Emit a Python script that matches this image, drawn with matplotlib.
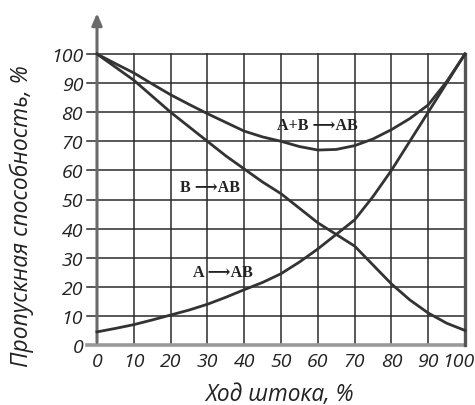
import numpy as np
import matplotlib.pyplot as plt
import matplotlib.transforms as mtransforms

# ход штока, % и пропускная способность, %
hod = [0, 5, 10, 15, 20, 25, 30, 35, 40, 45, 50, 55, 60, 65, 70, 75, 80, 85, 90, 95, 100]
ab_sum = [100, 96.7, 93.5, 89.7, 86, 82.7, 79.5, 76.5, 73.5, 71.5, 70, 68.2, 67, 67.2, 68.5, 70.8, 74, 77.8, 82.5, 90.5, 100]
b_ab = [100, 95.5, 91, 85.5, 80, 75, 70, 65, 60.5, 56, 52, 47, 42, 38, 34, 27.5, 21, 15.5, 11, 7.5, 5]
a_ab = [4.5, 5.7, 7, 8.6, 10.3, 12, 14, 16.4, 19, 21.5, 24.5, 28.5, 33, 38, 43, 51, 60, 70, 80, 90, 100]

x_ticks = list(range(0, 101, 10))
y_ticks = list(range(0, 101, 10))

fig = plt.figure(figsize=(4.75, 4.06), dpi=100)
ax = fig.add_axes([97/475, 60/406, 368/475, 291/406])
ax.set_xlim(0, 100)
ax.set_ylim(0, 100)

# сетка
for yv in y_ticks:
    ax.plot([-2.6, 100], [yv, yv], color='#2b2b2b', lw=1.1, clip_on=False, zorder=1)
for xv in x_ticks:
    ax.plot([xv, xv], [0, 100], color='#2b2b2b', lw=1.1, clip_on=False, zorder=1)

# оси
ax.plot([-2.6, 100], [0, 0], color='#9a9a9a', lw=2.6, clip_on=False, zorder=2)
ax.plot([100, 100], [0, 100], color='#555555', lw=2.4, clip_on=False, zorder=2)
ax.annotate('', xy=(0, 115), xytext=(0, 0), annotation_clip=False,
            arrowprops=dict(arrowstyle='-|>,head_length=0.7,head_width=0.3',
                            color='#6a6a6a', lw=2.2), zorder=2)

for s in ax.spines.values():
    s.set_visible(False)

# кривые
line_col = '#333333'
ax.plot(hod, ab_sum, color=line_col, lw=2.0, zorder=3, clip_on=False)
ax.plot(hod, b_ab, color=line_col, lw=2.0, zorder=3, clip_on=False)
ax.plot(hod, a_ab, color=line_col, lw=2.0, zorder=3, clip_on=False)

lab_font = dict(family=['Liberation Serif', 'DejaVu Serif'], fontweight='bold',
                fontsize=11.5, color='#222222', ha='center', va='center')
ax.text(59.8, 75.6, 'A+B ⟶AB', **lab_font)
ax.text(30.6, 54.3, 'B ⟶AB', **lab_font)
ax.text(34.3, 25, 'A ⟶AB', **lab_font)

ax.set_xticks(x_ticks)
ax.set_yticks(y_ticks)
ax.set_xticklabels([str(v) for v in x_ticks], fontfamily='Open Sans', style='italic',
                   fontsize=14, color='#222222')
ax.set_yticklabels([str(v) for v in y_ticks], fontfamily='Open Sans', style='italic',
                   fontsize=14, color='#222222')
ax.tick_params(axis='y', length=0, pad=10)
ax.tick_params(axis='x', length=0, pad=5)

# последняя подпись "100" чуть левее, чтобы не обрезалась
last = ax.get_xticklabels()[-1]
last.set_transform(last.get_transform() +
                   mtransforms.ScaledTranslation(-7/100, 0, fig.dpi_scale_trans))

fig.text(280/475, 1 - 395/406, 'Ход штока, %', fontfamily='Open Sans', style='italic',
         fontsize=16.3, color='#222222', ha='center', va='center')
fig.text(22/475, 1 - 216/406, 'Пропускная способность, %', fontfamily='Open Sans',
         style='italic', fontsize=16.5, color='#222222', ha='center', va='center',
         rotation=90)

fig.savefig('out.png', dpi=100)
